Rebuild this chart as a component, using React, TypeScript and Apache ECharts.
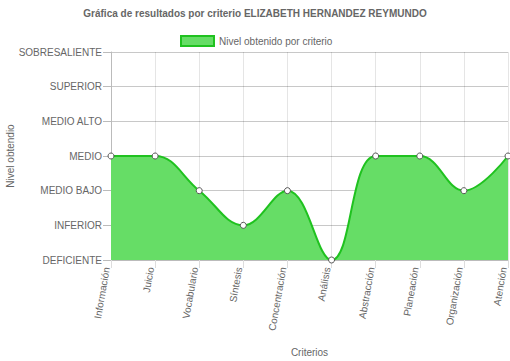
import React, { useEffect, useRef } from "react";
import * as echarts from "echarts";

const categories = ["Información", "Juicio", "Vocabulario", "Síntesis", "Concentración", "Análisis", "Abstracción", "Planeación", "Organización", "Atención"];
const levels = ["DEFICIENTE", "INFERIOR", "MEDIO BAJO", "MEDIO", "MEDIO ALTO", "SUPERIOR", "SOBRESALIENTE"];
const values = [3, 3, 2, 1, 2, 0, 3, 3, 2, 3];

export default function App() {
  const ref = useRef<HTMLDivElement>(null);
  useEffect(() => {
    const chart = echarts.init(ref.current!, null, { renderer: "svg" });
    const font = "Helvetica Neue, Helvetica, Arial, Liberation Sans, sans-serif";
    chart.setOption({
      animation: false,
      textStyle: { fontFamily: font },
      title: {
        text: "Gráfica de resultados por criterio ELIZABETH HERNANDEZ REYMUNDO",
        left: "center",
        top: 3,
        textStyle: { fontSize: 10, fontWeight: "bold", color: "#666", fontFamily: font },
      },
      legend: {
        top: 30,
        left: 175,
        itemWidth: 33,
        itemHeight: 10,
        itemGap: 5,
        textStyle: { fontSize: 10, color: "#666", fontFamily: font },
        itemStyle: { color: "#66dd66", borderColor: "#1fc21f", borderWidth: 2 },
        data: [{ name: "Nivel obtenido por criterio", icon: "rect" }],
      },
      grid: { left: 111, right: 2, top: 52, bottom: 101, containLabel: false, outerBoundsMode: "none" },
      xAxis: {
        type: "category",
        data: categories,
        boundaryGap: false,
        name: "Criterios",
        nameLocation: "middle",
        nameGap: 87,
        nameMoveOverlap: false,
        nameTextStyle: { fontSize: 10, color: "#666" },
        axisLine: { lineStyle: { color: "#bbb" } },
        axisTick: { show: true, length: 8, alignWithLabel: true, lineStyle: { color: "#ddd" } },
        axisLabel: { rotate: 80, fontSize: 10, color: "#666", margin: 8, interval: 0, verticalAlign: "bottom", lineHeight: 9 },
        splitLine: { show: true, lineStyle: { color: "rgba(0,0,0,0.1)" } },
      },
      yAxis: {
        type: "value",
        min: 0,
        max: 6,
        interval: 1,
        name: "Nivel obtendio",
        nameLocation: "middle",
        nameGap: 96,
        nameRotate: 90,
        nameMoveOverlap: false,
        nameTextStyle: { fontSize: 10, color: "#666" },
        axisLine: { show: true, lineStyle: { color: "#bbb" } },
        axisTick: { show: true, length: 8, lineStyle: { color: "#bbb" } },
        axisLabel: { fontSize: 10, color: "#666", margin: 9, formatter: (v: number) => levels[v] ?? "" },
        splitLine: { show: true, lineStyle: { color: "#c8c8c8" } },
      },
      series: [
        {
          name: "Nivel obtenido por criterio",
          type: "line",
          data: values,
          smooth: 0.4,
          symbol: "circle",
          symbolSize: 6,
          itemStyle: { color: "#fff", borderColor: "#555", borderWidth: 1 },
          lineStyle: { color: "#1fc21f", width: 2 },
          areaStyle: { color: "#66dd66", opacity: 1 },
          z: 3,
        },
      ],
    });
    return () => chart.dispose();
  }, []);
  return <div ref={ref} style={{ width: 510, height: 361, position: "absolute", left: 0, top: 0 }} />;
}
